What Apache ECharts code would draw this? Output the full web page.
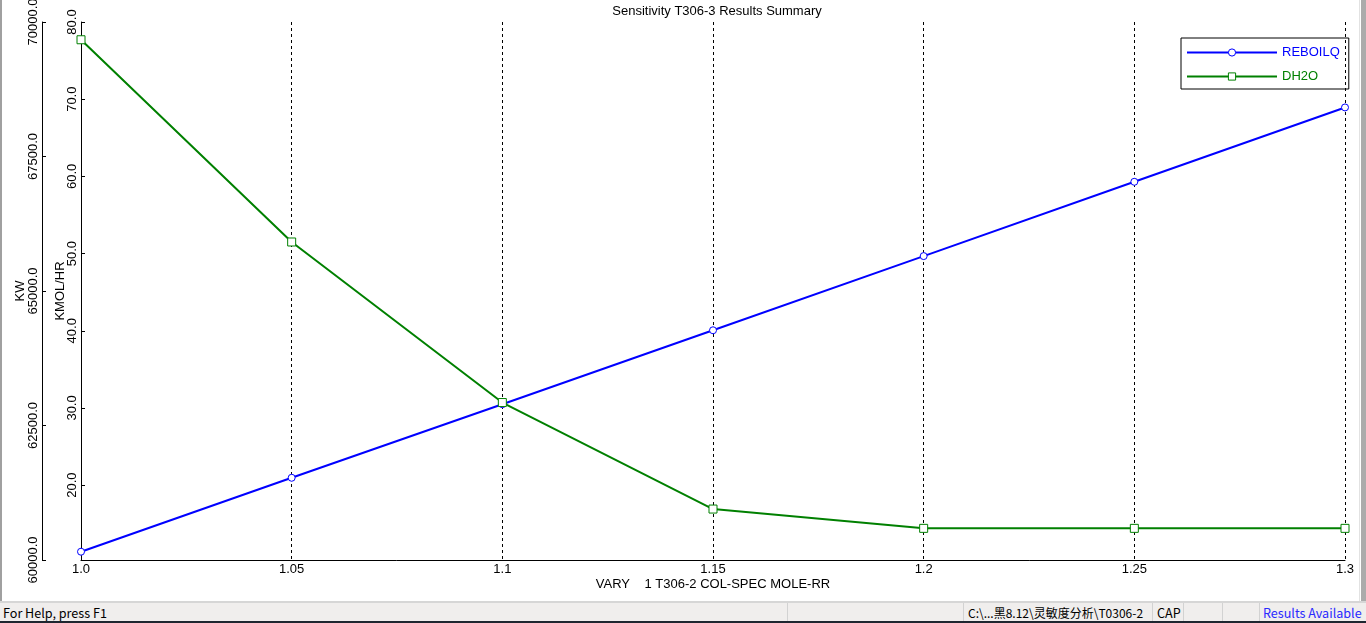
<!DOCTYPE html>
<html>
<head>
<meta charset="utf-8">
<script src="https://cdn.jsdelivr.net/npm/echarts@6/dist/echarts.min.js"></script>
<style>
html,body{margin:0;padding:0;background:#fff;overflow:hidden;width:1366px;height:623px}
#chart{position:absolute;left:0;top:0;width:1366px;height:623px}
.lb{position:absolute;left:0;top:0;width:2px;height:601px;background:#a0a0a0}
.rb1{position:absolute;left:1359px;top:0;width:1px;height:601px;background:#e2e2e2}
.rb2{position:absolute;left:1361px;top:0;width:5px;height:601px;background:#ababab}
.sb{position:absolute;left:0;top:601px;width:1366px;height:22px;background:#f0eeed;border-top:2px solid #d6d6d6;border-bottom:2px solid #1e2630;box-sizing:border-box;font-family:"Noto Sans CJK SC","Noto Sans",sans-serif;font-size:12.6px;color:#000}
.sb div{position:absolute;top:0;height:18px;line-height:19px;white-space:pre}
.sep{width:1px;background:#d2d2d2}
</style>
</head>
<body>
<div id="chart"></div>
<div class="lb"></div>
<div class="rb1"></div>
<div class="rb2"></div>
<div class="sb">
  <div style="left:3px">For Help, press F1</div>
  <div class="sep" style="left:787px"></div>
  <div class="sep" style="left:963px"></div>
  <div style="left:968px;font-size:12px">C:\...黑8.12\灵敏度分析\T0306-2</div>
  <div class="sep" style="left:1152px"></div>
  <div style="left:1157px">CAP</div>
  <div class="sep" style="left:1183px"></div>
  <div class="sep" style="left:1222px"></div>
  <div class="sep" style="left:1259px"></div>
  <div style="left:1263px;color:#2a2aff">Results Available</div>
</div>
<script>
const categories = ['1.0', '1.05', '1.1', '1.15', '1.2', '1.25', '1.3'];
const reboilq = [60154, 61528, 62896, 64270, 65649, 67030, 68412];
const dh2o = [77.7, 51.5, 30.7, 16.9, 14.4, 14.4, 14.4];
const kmolTicks = [20, 30, 40, 50, 60, 70, 80];
const kwMin = 60000, kwMax = 70000, kwStep = 2500;
const kmolMin = 10.3, kmolMax = 80;

const FONT = '"Liberation Sans", Arial, sans-serif';
const FS = 13;
const chart = echarts.init(document.getElementById('chart'), null, {renderer: 'canvas'});
const axisCommon = {
  axisLine: {show: true, lineStyle: {color: '#000', width: 1}},
  axisTick: {show: true, inside: true, length: 4, lineStyle: {color: '#000', width: 1}},
  splitLine: {show: false},
  nameLocation: 'middle',
  nameRotate: 90,
  nameMoveOverlap: false,
  nameTextStyle: {color: '#000', fontSize: FS, fontFamily: FONT}
};
chart.setOption({
  animation: false,
  backgroundColor: '#fff',
  textStyle: {fontFamily: FONT},
  title: {
    text: 'Sensitivity T306-3 Results Summary',
    left: 712, top: 0, textAlign: 'center',
    textStyle: {fontSize: FS, fontWeight: 'normal', color: '#000', fontFamily: FONT}
  },
  legend: {
    orient: 'vertical', left: 1181, top: 38,
    padding: [8, 9, 6, 5],
    itemWidth: 90, itemHeight: 9, itemGap: 11,
    borderColor: '#000', borderWidth: 1, borderRadius: 0,
    itemStyle: {borderWidth: 1},
    textStyle: {fontSize: FS, fontFamily: FONT},
    data: [
      {name: 'REBOILQ', textStyle: {color: '#0000ff'}},
      {name: 'DH2O', textStyle: {color: '#008000'}}
    ]
  },
  grid: {left: 81, right: 21, top: 22, bottom: 63, containLabel: false, outerBoundsMode: 'none'},
  xAxis: {
    type: 'category', data: categories, boundaryGap: false,
    name: 'VARY    1 T306-2 COL-SPEC MOLE-RR', nameLocation: 'middle', nameGap: 18,
    nameMoveOverlap: false,
    nameTextStyle: {color: '#000', fontSize: FS, fontFamily: FONT},
    axisLine: {lineStyle: {color: '#000', width: 1}},
    axisTick: {show: false},
    axisLabel: {interval: 0, margin: 3, color: '#000', fontSize: FS, fontFamily: FONT},
    splitLine: {show: true, interval: 0, lineStyle: {color: '#000', width: 1, type: [3, 3]}}
  },
  yAxis: [
    Object.assign({}, axisCommon, {
      type: 'value', position: 'left', offset: 39,
      min: kwMin, max: kwMax, interval: kwStep,
      name: 'KW', nameGap: 15,
      axisLabel: {rotate: 90, margin: 2, color: '#000', fontSize: FS, fontFamily: FONT,
        formatter: v => v.toFixed(1)}
    }),
    Object.assign({}, axisCommon, {
      type: 'value', position: 'left', offset: 0,
      min: kmolMin, max: kmolMax,
      name: 'KMOL/HR', nameGap: 14,
      axisTick: {show: true, inside: true, length: 4, customValues: kmolTicks, lineStyle: {color: '#000', width: 1}},
      axisLabel: {rotate: 90, margin: 2, color: '#000', fontSize: FS, fontFamily: FONT,
        customValues: kmolTicks, formatter: v => v.toFixed(1)}
    })
  ],
  series: [
    {
      name: 'REBOILQ', type: 'line', yAxisIndex: 0, data: reboilq,
      symbol: 'circle', symbolSize: 7,
      lineStyle: {color: '#0000ff', width: 2},
      itemStyle: {color: '#fff', borderColor: '#0000ff', borderWidth: 1},
      emphasis: {disabled: true}
    },
    {
      name: 'DH2O', type: 'line', yAxisIndex: 1, data: dh2o,
      symbol: 'rect', symbolSize: 8,
      lineStyle: {color: '#008000', width: 2},
      itemStyle: {color: '#fff', borderColor: '#008000', borderWidth: 1},
      emphasis: {disabled: true}
    }
  ]
});
</script>
</body>
</html>
